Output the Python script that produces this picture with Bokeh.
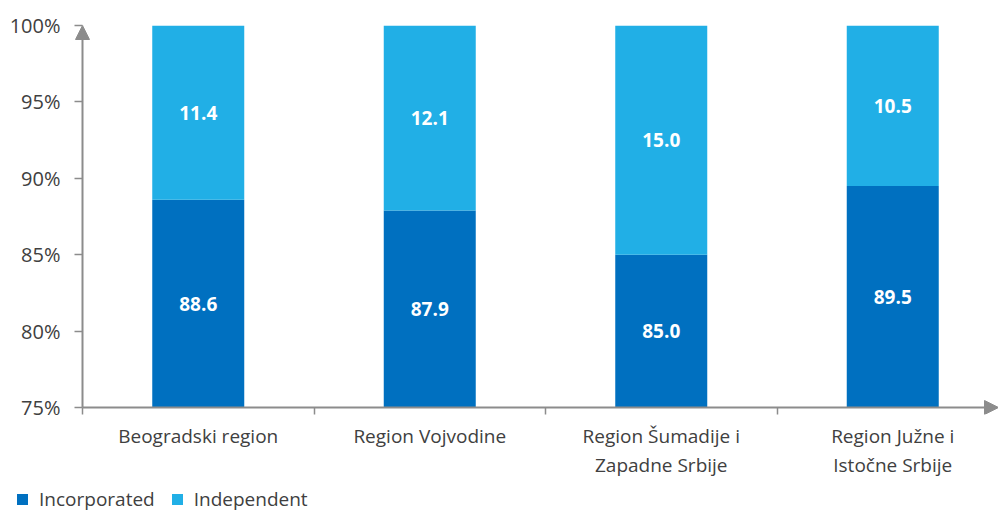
from bokeh.plotting import figure
from bokeh.layouts import column
from bokeh.models import (Range1d, FixedTicker, Arrow, NormalHead,
                          ColumnDataSource, Div)
from bokeh.core.properties import value
from bokeh.embed import file_html
from bokeh.resources import INLINE

regions = ["Beogradski region", "Region Vojvodine",
           "Region Šumadije i\nZapadne Srbije", "Region Južne i\nIstočne Srbije"]
incorporated = [88.6, 87.9, 85.0, 89.5]
independent = [11.4, 12.1, 15.0, 10.5]
y_ticks = [75, 80, 85, 90, 95, 100]
y_tick_labels = ["75%", "80%", "85%", "90%", "95%", "100%"]
series_names = ["Incorporated", "Independent"]

Y_MIN, Y_MAX = 75, 100
DARK = "#0070C0"
LIGHT = "#21AFE6"
series_colors = [DARK, LIGHT]
AXIS = "#8C8C8C"
TEXT = "#404040"
FONT = "Open Sans"

n = len(regions)
xs = [i + 0.5 for i in range(n)]
ind_top = [a + b for a, b in zip(incorporated, independent)]
src = ColumnDataSource(dict(
    x=xs, inc=incorporated, ind=ind_top, base=[Y_MIN] * n,
    inc_lab=[f"{v:.1f}" for v in incorporated],
    ind_lab=[f"{v:.1f}" for v in independent],
    inc_y=[(Y_MIN + v) / 2 for v in incorporated],
    ind_y=[(a + b) / 2 for a, b in zip(incorporated, ind_top)],
))

# geometry (pixels)
CAT_PX = 231.5           # pixels per category
UNIT_PX = 382 / 25.0     # pixels per percentage point
W, H_MAIN, H_LEG = 998, 486, 26
FRAME_L, FRAME_T, FRAME_B = 74, 25, 414
AX_X = 82                # y axis position
x_start = -(AX_X - FRAME_L) / CAT_PX
x_end = (W - AX_X) / CAT_PX
y_start = Y_MIN - (FRAME_B - 407) / UNIT_PX

p = figure(width=W, height=H_MAIN, output_backend="svg", toolbar_location=None,
           x_range=Range1d(x_start, x_end), y_range=Range1d(y_start, Y_MAX),
           min_border_left=FRAME_L, min_border_right=0, min_border_top=FRAME_T,
           min_border_bottom=H_MAIN - FRAME_B)
p.outline_line_color = None
p.xgrid.visible = False
p.ygrid.visible = False

bw = 92 / CAT_PX
r1 = p.vbar(x="x", bottom="base", top="inc", width=bw, source=src,
            fill_color=DARK, line_color=None)
r2 = p.vbar(x="x", bottom="inc", top="ind", width=bw, source=src,
            fill_color=LIGHT, line_color=None)

for col, ycol in (("inc_lab", "inc_y"), ("ind_lab", "ind_y")):
    p.text(x="x", y=ycol, text=col, source=src, text_color="white",
           text_font=value(FONT), text_font_style="bold", text_font_size="19px",
           text_align="center", text_baseline="middle")

# y axis
ya = p.yaxis[0]
ya.ticker = FixedTicker(ticks=y_ticks)
ya.major_label_overrides = {t: l for t, l in zip(y_ticks, y_tick_labels)}
ya.axis_line_color = None
ya.major_tick_line_color = AXIS
ya.major_tick_line_width = 1.5
ya.major_tick_out = 0
ya.major_tick_in = AX_X - FRAME_L
ya.minor_tick_line_color = None
ya.major_label_standoff = 14
ya.major_label_text_font = FONT
ya.major_label_text_font_size = "20px"
ya.major_label_text_color = TEXT

# x axis
xa = p.xaxis[0]
xa.ticker = FixedTicker(ticks=xs, minor_ticks=list(range(n)))
xa.major_label_overrides = {x: r for x, r in zip(xs, regions)}
xa.axis_line_color = None
xa.major_tick_line_color = None
xa.major_tick_out = 0
xa.major_tick_in = 0
xa.minor_tick_line_color = AXIS
xa.minor_tick_line_width = 1.5
xa.minor_tick_out = 0
xa.minor_tick_in = FRAME_B - 407
xa.major_label_standoff = 8
xa.major_label_text_font = FONT
xa.major_label_text_font_size = "19px"
xa.major_label_text_color = TEXT
xa.major_label_text_line_height = 1.13

# axis lines with arrows
head_kw = dict(size=14, fill_color=AXIS, line_color=AXIS)
p.add_layout(Arrow(end=NormalHead(**head_kw), x_start=0, y_start=Y_MIN,
                   x_end=0, y_end=Y_MAX, line_color=AXIS, line_width=2))
p.add_layout(Arrow(end=NormalHead(**head_kw), x_start=0, y_start=Y_MIN,
                   x_end=x_end, y_end=Y_MIN, line_color=AXIS, line_width=2))

# legend strip (HTML)
items = []
for i, (name, c) in enumerate(zip(series_names, series_colors)):
    ml = "0px" if i == 0 else "17px"
    items.append(
        f'<span style="display:inline-block;width:11px;height:11px;'
        f'background:{c};margin-left:{ml};margin-right:11px;"></span>'
        f'<span>{name}</span>')
legend_html = (
    f'<div style="display:flex;align-items:center;height:{H_LEG}px;'
    f'padding-left:17px;font-family:\'{FONT}\';font-size:19px;color:{TEXT};'
    f'white-space:nowrap;line-height:1;">' + "".join(items) + '</div>')
leg = Div(text=legend_html, width=W, height=H_LEG, margin=0)

open("out.html", "w").write(file_html(column(p, leg, spacing=0), INLINE))
